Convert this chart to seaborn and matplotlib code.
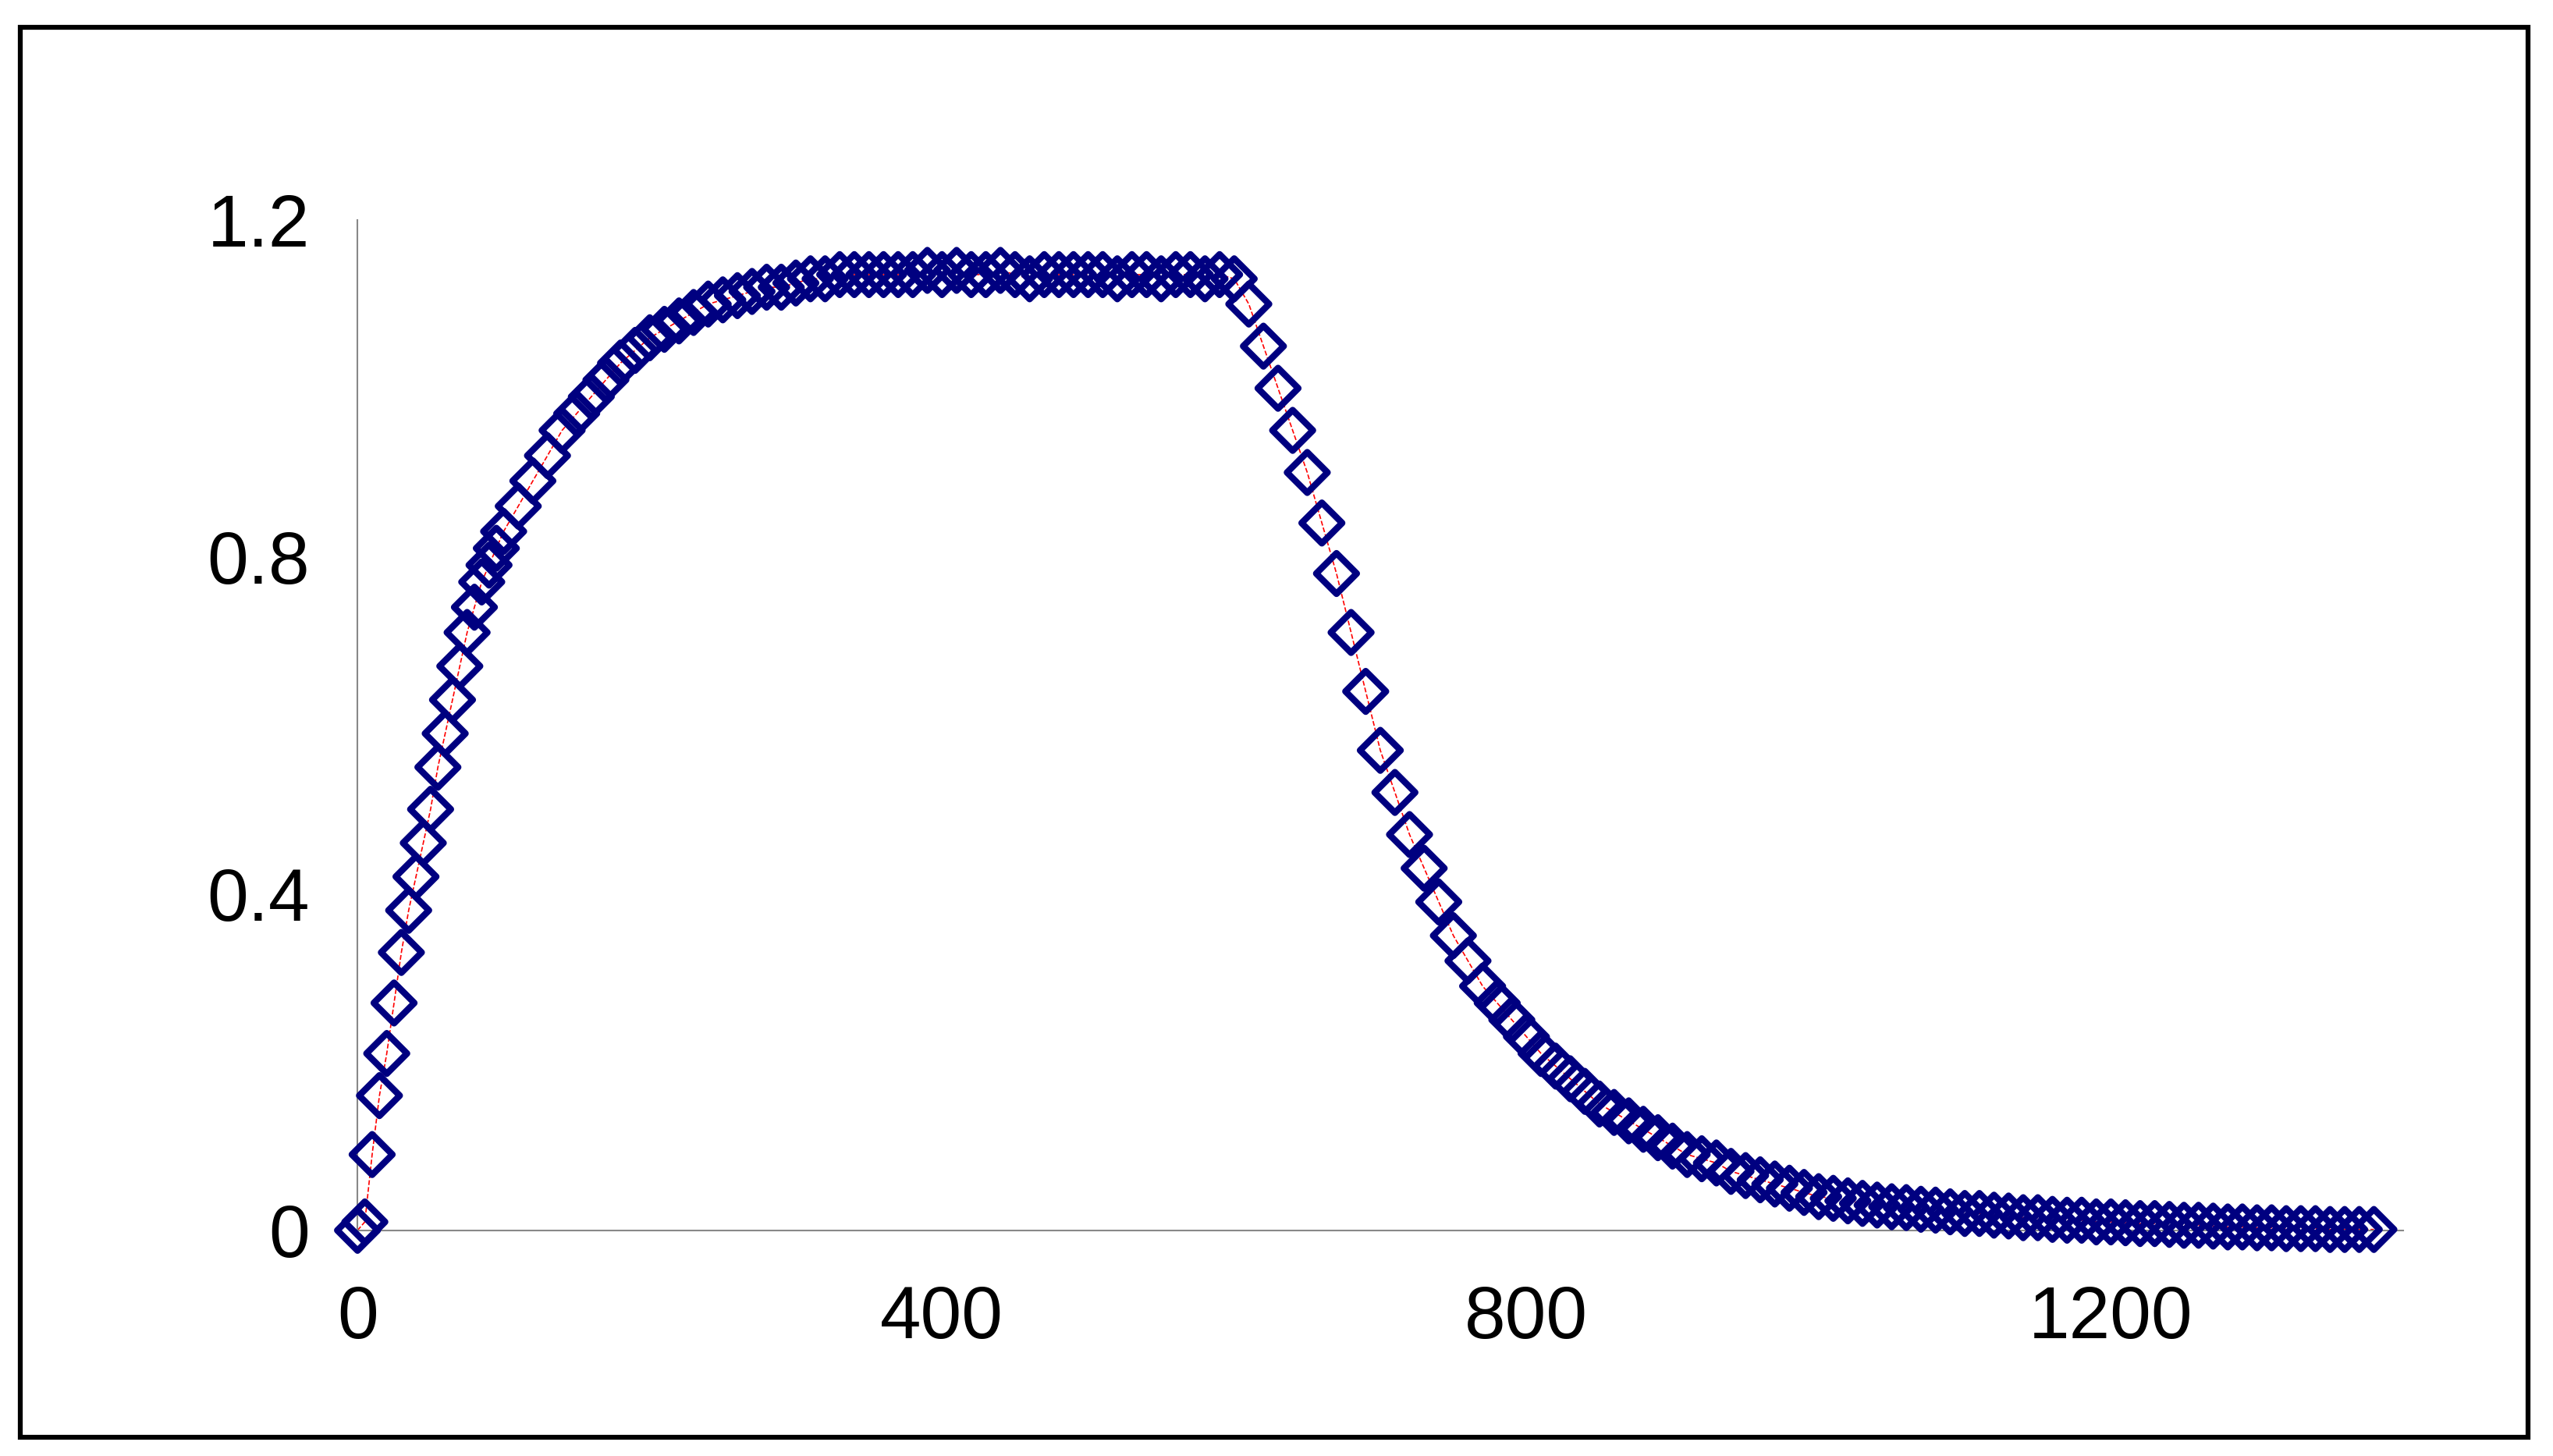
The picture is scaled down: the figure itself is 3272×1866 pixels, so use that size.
import matplotlib
matplotlib.use('Agg')
import numpy as np
import pandas as pd
import matplotlib.pyplot as plt
from matplotlib.patches import Rectangle
import seaborn as sns

sns.set_style("white")
plt.rcParams['font.family'] = ['Liberation Sans', 'DejaVu Sans']

# 读图估计的数据
x_vals = [0, 5, 10, 15, 20, 25, 30, 35, 40, 45, 50, 55, 60, 65, 70, 75, 80, 85, 90, 95,
          100, 110, 120, 130, 140, 150, 160, 170, 180, 190, 200, 210, 220, 230, 240, 250,
          260, 270, 280, 290, 300, 310, 320, 330, 340, 350, 360, 370, 380, 390, 400, 410,
          420, 430, 440, 450, 460, 470, 480, 490, 500, 510, 520, 530, 540, 550, 560, 570,
          580, 590, 600, 610, 620, 630, 640, 650, 660, 670, 680, 690, 700, 710, 720, 730,
          740, 750, 760, 770, 780, 790, 800, 810, 820, 830, 840, 850, 860, 870, 880, 890,
          900, 910, 920, 930, 940, 950, 960, 970, 980, 990, 1000, 1010, 1020, 1030, 1040,
          1050, 1060, 1070, 1080, 1090, 1100, 1110, 1120, 1130, 1140, 1150, 1160, 1170,
          1180, 1190, 1200, 1210, 1220, 1230, 1240, 1250, 1260, 1270, 1280, 1290, 1300,
          1310, 1320, 1330, 1340, 1350, 1360, 1370, 1380]
y_vals = [0.0, 0.01, 0.09, 0.16, 0.21, 0.27, 0.33, 0.38, 0.42, 0.46, 0.50, 0.55, 0.59,
          0.63, 0.67, 0.71, 0.74, 0.77, 0.79, 0.81, 0.83, 0.86, 0.89, 0.92, 0.95, 0.97,
          0.99, 1.01, 1.03, 1.045, 1.06, 1.07, 1.08, 1.09, 1.10, 1.105, 1.11, 1.115, 1.12,
          1.12, 1.125, 1.13, 1.13, 1.135, 1.135, 1.135, 1.135, 1.135, 1.135, 1.14, 1.135,
          1.14, 1.135, 1.135, 1.14, 1.135, 1.13, 1.135, 1.135, 1.135, 1.135, 1.135, 1.13,
          1.135, 1.135, 1.13, 1.135, 1.135, 1.13, 1.135, 1.13, 1.10, 1.05, 1.00, 0.95,
          0.90, 0.84, 0.78, 0.71, 0.64, 0.57, 0.52, 0.47, 0.43, 0.39, 0.35, 0.32, 0.29,
          0.27, 0.25, 0.23, 0.21, 0.195, 0.18, 0.165, 0.15, 0.14, 0.13, 0.12, 0.11, 0.10,
          0.09, 0.085, 0.08, 0.07, 0.065, 0.06, 0.055, 0.05, 0.045, 0.04, 0.038, 0.035,
          0.032, 0.03, 0.028, 0.027, 0.025, 0.024, 0.022, 0.02, 0.02, 0.018, 0.017, 0.015,
          0.015, 0.013, 0.012, 0.012, 0.01, 0.01, 0.009, 0.008, 0.008, 0.007, 0.006,
          0.006, 0.005, 0.004, 0.004, 0.003, 0.003, 0.002, 0.002, 0.002, 0.001, 0.001,
          0.001, 0.001]
df = pd.DataFrame({'x': x_vals, 'y': y_vals})

fig = plt.figure(figsize=(32.73, 18.66), dpi=100)
ax = fig.add_axes([0.140, 0.155, 0.801, 0.694])

sns.lineplot(data=df, x='x', y='y', ax=ax, color='red', linestyle='--', linewidth=1.2, zorder=1)
sns.scatterplot(data=df, x='x', y='y', ax=ax, marker='D', s=700, facecolors='none',
                edgecolor='#000080', linewidth=6, zorder=3, clip_on=False)

ax.set_xlim(0, 1400)
ax.set_ylim(0, 1.2)
ax.set_xticks([0, 400, 800, 1200])
ax.set_yticks([0, 0.4, 0.8, 1.2])
ax.set_yticklabels(['0', '0.4', '0.8', '1.2'])
ax.set_xlabel('')
ax.set_ylabel('')
for side in ['top', 'right']:
    ax.spines[side].set_visible(False)
for side in ['left', 'bottom']:
    ax.spines[side].set_color('#888888')
    ax.spines[side].set_linewidth(1.5)
ax.tick_params(axis='both', labelsize=68, direction='out', length=14, width=1.5,
               color='#888888', labelcolor='black')
ax.tick_params(axis='x', pad=36)
ax.tick_params(axis='y', pad=30)
for c in ax.collections:
    c.set_clip_on(False)

# 外边框
fig.patches.append(Rectangle((0.008, 0.013), 0.982, 0.968, transform=fig.transFigure,
                             fill=False, edgecolor='black', linewidth=4.5))

plt.savefig('out.png', dpi=100)
plt.close()
